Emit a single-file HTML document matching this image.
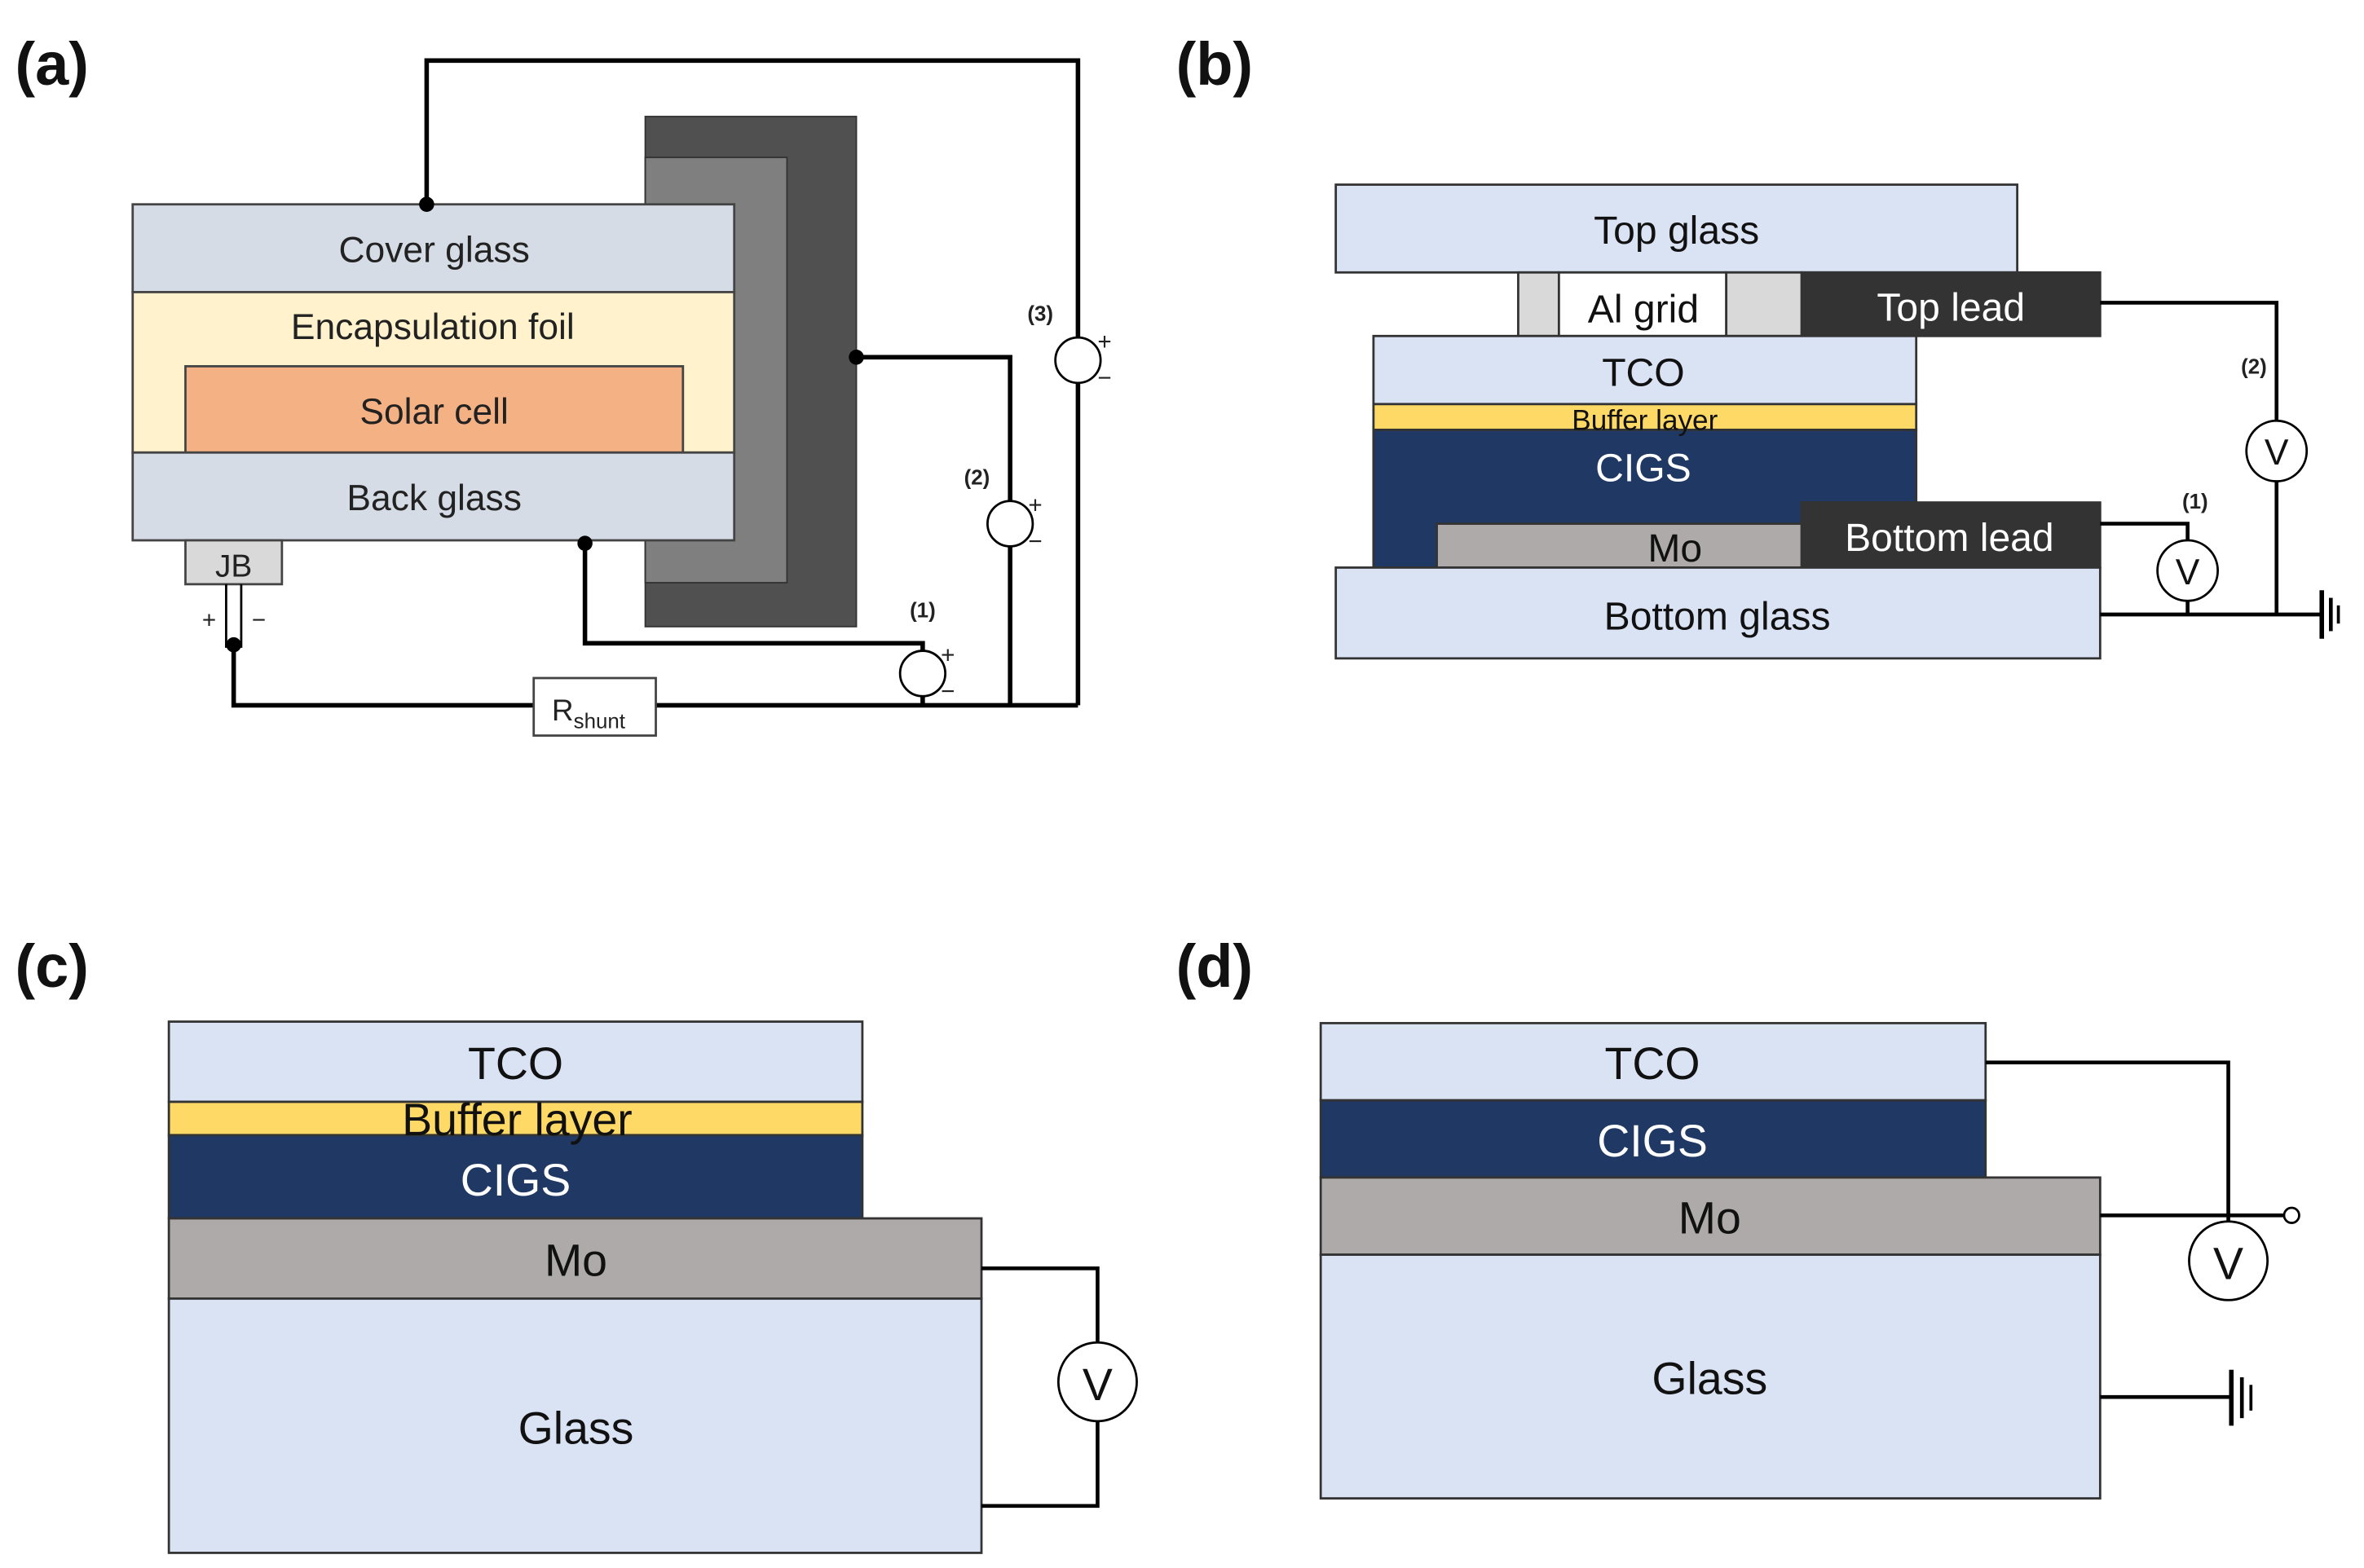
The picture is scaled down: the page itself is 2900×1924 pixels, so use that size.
<!DOCTYPE html>
<html><head><meta charset="utf-8"><style>html,body{margin:0;padding:0;background:#fff}svg{display:block}</style></head>
<body>
<svg width="2900" height="1924" viewBox="0 0 1568 1036" preserveAspectRatio="none" xmlns="http://www.w3.org/2000/svg" font-family="Liberation Sans, sans-serif">
<g font-weight="bold" font-size="40" fill="#111">
<text x="10" y="56">(a)</text><text x="780" y="56">(b)</text>
<text x="10" y="652">(c)</text><text x="780" y="652">(d)</text>
</g>
<!-- (a) -->
<g stroke="#000" stroke-width="3" fill="none">
<polyline points="283,135 283,40 715,40 715,223"/>
<line x1="715" y1="253" x2="715" y2="466"/>
</g>
<rect x="428" y="77" width="140" height="337" fill="#505050" stroke="#333"/>
<rect x="428" y="104" width="94" height="281" fill="#7f7f7f" stroke="#333"/>
<g stroke="#444" stroke-width="1.5">
<rect x="88" y="135" width="399" height="58" fill="#d6dce5"/>
<rect x="88" y="193" width="399" height="106" fill="#fff2cc"/>
<rect x="123" y="242" width="330" height="57" fill="#f4b183"/>
<rect x="88" y="299" width="399" height="58" fill="#d6dce5"/>
<rect x="123" y="357" width="64" height="29" fill="#d9d9d9"/>
</g>
<g font-size="24" fill="#222" text-anchor="middle">
<text x="288" y="173">Cover glass</text>
<text x="287" y="224">Encapsulation foil</text>
<text x="288" y="280">Solar cell</text>
<text x="288" y="337">Back glass</text>
<text x="155" y="381" font-size="21">JB</text>
</g>
<g stroke="#000" stroke-width="1.5" fill="none">
<line x1="150" y1="386" x2="150" y2="428"/><line x1="160" y1="386" x2="160" y2="428"/>
</g>
<g stroke="#000" stroke-width="3" fill="none">
<polyline points="155,426 155,466 354,466"/>
<line x1="435" y1="466" x2="715" y2="466"/>
<polyline points="388,359 388,425 612,425 612,430"/>
<line x1="612" y1="460" x2="612" y2="466"/>
<polyline points="568,236 670,236 670,331"/>
<line x1="670" y1="361" x2="670" y2="466"/>
</g>
<rect x="354" y="448" width="81" height="38" fill="#fff" stroke="#444" stroke-width="1.5"/>
<text x="366" y="476" font-size="20" fill="#222">R<tspan font-size="14" dy="5">shunt</tspan></text>
<g fill="#000"><circle cx="283" cy="135" r="5"/><circle cx="568" cy="236" r="5"/><circle cx="388" cy="359" r="5"/><circle cx="155" cy="426" r="5"/></g>
<g fill="#fff" stroke="#000" stroke-width="1.5"><circle cx="612" cy="445" r="15"/><circle cx="670" cy="346" r="15"/><circle cx="715" cy="238" r="15"/></g>
<g font-size="16" fill="#222">
<text x="134" y="415">+</text><text x="167" y="415">−</text>
<text x="624" y="438">+</text><text x="624" y="462">−</text>
<text x="682" y="339">+</text><text x="682" y="363">−</text>
<text x="728" y="231">+</text><text x="728" y="255">−</text>
</g>
<g font-size="14" font-weight="bold" fill="#222" text-anchor="middle">
<text x="612" y="408">(1)</text><text x="648" y="320">(2)</text><text x="690" y="212">(3)</text>
</g>
<!-- (b) -->
<g stroke="#333" stroke-width="1.5">
<rect x="886" y="122" width="452" height="58" fill="#dae3f3"/>
<rect x="1007" y="180" width="27" height="42" fill="#d9d9d9"/>
<rect x="1034" y="180" width="111" height="42" fill="#fff"/>
<rect x="1145" y="180" width="50" height="42" fill="#d9d9d9"/>
<rect x="1195" y="180" width="198" height="42" fill="#333"/>
<rect x="911" y="222" width="360" height="45" fill="#dae3f3"/>
<rect x="911" y="267" width="360" height="17" fill="#ffd966"/>
<polygon points="911,284 1271,284 1271,332 1195,332 1195,375 911,375" fill="#203864"/>
<rect x="953" y="346" width="242" height="29" fill="#aeaaaa"/>
<rect x="1195" y="332" width="198" height="43" fill="#333"/>
<rect x="886" y="375" width="507" height="60" fill="#dae3f3"/>
</g>
<g font-size="26" text-anchor="middle" fill="#111">
<text x="1112" y="161">Top glass</text>
<text x="1090" y="213">Al grid</text>
<text x="1294" y="212" fill="#fff">Top lead</text>
<text x="1090" y="255">TCO</text>
<text x="1091" y="284" font-size="19">Buffer layer</text>
<text x="1090" y="318" fill="#fff">CIGS</text>
<text x="1111" y="371">Mo</text>
<text x="1293" y="364" fill="#fff">Bottom lead</text>
<text x="1139" y="416">Bottom glass</text>
</g>
<g stroke="#000" stroke-width="2.5" fill="none">
<polyline points="1393,200 1510,200 1510,278"/>
<line x1="1510" y1="318" x2="1510" y2="406"/>
<polyline points="1393,346 1451,346 1451,357"/>
<line x1="1451" y1="397" x2="1451" y2="406"/>
<line x1="1393" y1="406" x2="1540" y2="406"/>
<line x1="1540" y1="390" x2="1540" y2="422" stroke-width="3"/>
<line x1="1546" y1="395" x2="1546" y2="417" stroke-width="2.5"/>
<line x1="1551" y1="400" x2="1551" y2="412" stroke-width="2"/>
</g>
<g fill="#fff" stroke="#000" stroke-width="1.5"><circle cx="1510" cy="298" r="20"/><circle cx="1451" cy="377" r="20"/></g>
<g font-size="24" text-anchor="middle" fill="#111"><text x="1510" y="307">V</text><text x="1451" y="386">V</text></g>
<g font-size="14" font-weight="bold" fill="#222" text-anchor="middle"><text x="1495" y="247">(2)</text><text x="1456" y="336">(1)</text></g>
<!-- (c) -->
<g stroke="#333" stroke-width="1.5">
<rect x="112" y="675" width="460" height="53" fill="#dae3f3"/>
<rect x="112" y="728" width="460" height="22" fill="#ffd966"/>
<rect x="112" y="750" width="460" height="55" fill="#203864"/>
<rect x="112" y="805" width="539" height="53" fill="#aeaaaa"/>
<rect x="112" y="858" width="539" height="168" fill="#dae3f3"/>
</g>
<g font-size="30" text-anchor="middle" fill="#111">
<text x="342" y="713">TCO</text>
<text x="343" y="750">Buffer layer</text>
<text x="342" y="790" fill="#fff">CIGS</text>
<text x="382" y="843">Mo</text>
<text x="382" y="954">Glass</text>
</g>
<g stroke="#000" stroke-width="2.5" fill="none">
<polyline points="651,838 728,838 728,887"/>
<polyline points="728,939 728,995 651,995"/>
</g>
<circle cx="728" cy="913" r="26" fill="#fff" stroke="#000" stroke-width="1.5"/>
<text x="728" y="925" font-size="30" text-anchor="middle" fill="#111">V</text>
<!-- (d) -->
<g stroke="#333" stroke-width="1.5">
<rect x="876" y="676" width="441" height="51" fill="#dae3f3"/>
<rect x="876" y="727" width="441" height="51" fill="#203864"/>
<rect x="876" y="778" width="517" height="51" fill="#aeaaaa"/>
<rect x="876" y="829" width="517" height="161" fill="#dae3f3"/>
</g>
<g font-size="30" text-anchor="middle" fill="#111">
<text x="1096" y="713">TCO</text>
<text x="1096" y="764" fill="#fff">CIGS</text>
<text x="1134" y="815">Mo</text>
<text x="1134" y="921">Glass</text>
</g>
<g stroke="#000" stroke-width="2.5" fill="none">
<polyline points="1317,702 1478,702 1478,807"/>
<line x1="1393" y1="803" x2="1515" y2="803"/>
<line x1="1393" y1="923" x2="1480" y2="923"/>
<line x1="1480" y1="905" x2="1480" y2="942" stroke-width="3"/>
<line x1="1487" y1="910" x2="1487" y2="937" stroke-width="2.5"/>
<line x1="1493" y1="915" x2="1493" y2="932" stroke-width="2"/>
</g>
<circle cx="1520" cy="803" r="5" fill="#fff" stroke="#000" stroke-width="1.5"/>
<circle cx="1478" cy="833" r="26" fill="#fff" stroke="#000" stroke-width="1.5"/>
<text x="1478" y="845" font-size="30" text-anchor="middle" fill="#111">V</text>
</svg>
</body></html>
